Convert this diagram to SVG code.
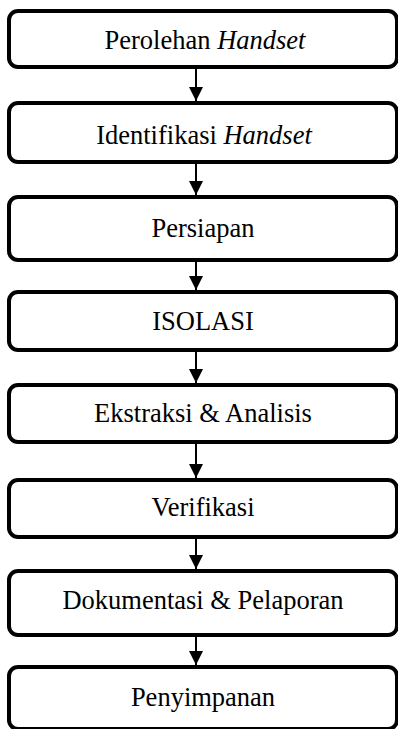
<svg xmlns="http://www.w3.org/2000/svg" width="398" height="729" viewBox="0 0 398 729">
<defs>
<style>
.box{fill:#fff;stroke:#000;stroke-width:4}
.lbl{font-size:26.5px;fill:#000;text-anchor:middle}
.it{font-style:italic}
.con{stroke:#000;stroke-width:2;fill:none}
</style>
<marker id="ah" markerUnits="userSpaceOnUse" markerWidth="16" markerHeight="16" refX="14" refY="7" orient="auto">
<path d="M0,0 L14,7 L0,14 Z" fill="#000"/>
</marker>
</defs>
<rect width="398" height="729" fill="#fff"/>
<g id="connectors">
<line class="con" x1="196" y1="69" x2="196" y2="101" marker-end="url(#ah)"/>
<line class="con" x1="196" y1="164" x2="196" y2="195" marker-end="url(#ah)"/>
<line class="con" x1="196" y1="262" x2="196" y2="290" marker-end="url(#ah)"/>
<line class="con" x1="196" y1="352" x2="196" y2="383" marker-end="url(#ah)"/>
<line class="con" x1="196" y1="444" x2="196" y2="478" marker-end="url(#ah)"/>
<line class="con" x1="196" y1="539" x2="196" y2="569" marker-end="url(#ah)"/>
<line class="con" x1="196" y1="637" x2="196" y2="665" marker-end="url(#ah)"/>
</g>
<g font-family="'Liberation Serif', 'Times New Roman', serif">
<g id="n1"><rect class="box" x="9" y="11" width="388" height="56" rx="9"/><text class="lbl" x="205" y="48.5">Perolehan <tspan class="it">Handset</tspan></text></g>
<g id="n2"><rect class="box" x="9" y="103" width="388" height="59" rx="9"/><text class="lbl" x="204" y="143.5">Identifikasi <tspan class="it">Handset</tspan></text></g>
<g id="n3"><rect class="box" x="9" y="197" width="388" height="63" rx="9"/><text class="lbl" x="203" y="237">Persiapan</text></g>
<g id="n4"><rect class="box" x="9" y="292" width="388" height="58" rx="9"/><text class="lbl" x="203" y="329.5">ISOLASI</text></g>
<g id="n5"><rect class="box" x="9" y="385" width="388" height="57" rx="9"/><text class="lbl" x="203" y="421.5">Ekstraksi &amp; Analisis</text></g>
<g id="n6"><rect class="box" x="9" y="480" width="388" height="57" rx="9"/><text class="lbl" x="203" y="515.5">Verifikasi</text></g>
<g id="n7"><rect class="box" x="9" y="571" width="388" height="64" rx="9"/><text class="lbl" x="203" y="608.5">Dokumentasi &amp; Pelaporan</text></g>
<g id="n8"><rect class="box" x="9" y="667" width="388" height="62" rx="9"/><text class="lbl" x="203" y="705.5">Penyimpanan</text></g>
</g>
</svg>
